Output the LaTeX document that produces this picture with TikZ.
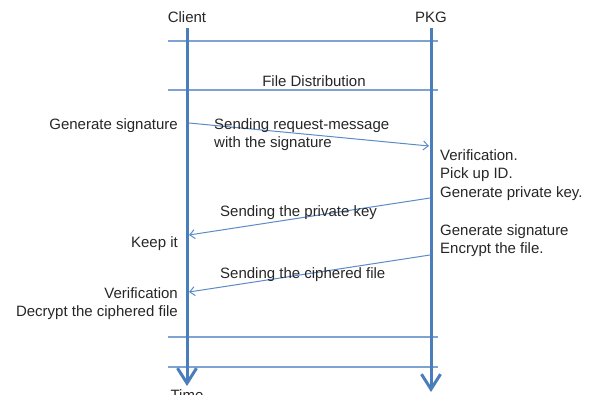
\documentclass[tikz,border=0pt]{standalone}
\usepackage{fontspec}
\setmainfont{Liberation Sans}
\usetikzlibrary{arrows.meta}
\definecolor{lifeblue}{HTML}{4A7EBB}
\definecolor{rowblue}{HTML}{7EA3D3}
\definecolor{msgblue}{HTML}{5B8BC8}
\definecolor{txt}{HTML}{262626}
\tikzset{
  x=1pt, y=-1pt,
  every node/.style={inner sep=0pt, text=txt, font=\fontsize{15}{18.5}\selectfont},
  lifeline/.style={draw=lifeblue, line width=3pt,
    -{Straight Barb[length=15pt,width=19pt,line width=3pt]}},
  rowline/.style={draw=rowblue, line width=1.6pt},
  msg/.style={draw=msgblue, line width=1pt,
    -{Straight Barb[length=5pt,width=9pt,line width=1pt]}},
  lefttxt/.style={anchor=base east, align=right},
  righttxt/.style={anchor=base west, align=left},
}
\begin{document}
\begin{tikzpicture}
\useasboundingbox (0,0) rectangle (592,394);
\clip (0,0) rectangle (592,394);

% party headers
\node[anchor=base] (client) at (187,22) {Client};
\node[anchor=base] (pkg) at (431,22) {PKG};

% lifeline ends
\coordinate (ctop) at (187,28);
\coordinate (cend) at (187,386);
\coordinate (ptop) at (431,28);
\coordinate (pend) at (431,392);

% phase separators
\coordinate (r1a) at (168,41);  \coordinate (r1b) at (438,41);
\coordinate (r2a) at (168,90);  \coordinate (r2b) at (438,90);
\coordinate (r3a) at (168,337); \coordinate (r3b) at (438,337);
\coordinate (r4a) at (168,367); \coordinate (r4b) at (438,367);
\draw[rowline] (r1a) -- (r1b);
\draw[rowline] (r2a) -- (r2b);
\draw[rowline] (r3a) -- (r3b);
\draw[rowline] (r4a) -- (r4b);

\draw[lifeline] (ctop) -- (cend);
\draw[lifeline] (ptop) -- (pend);

\node[anchor=base] (phase) at (314,86) {File Distribution};
\node[anchor=base] (time) at (187,400) {Time};

% message end points on the lifelines
\coordinate (m1s) at (189,123);
\coordinate (m1e) at (429,146);
\coordinate (m2s) at (430,198);
\coordinate (m2e) at (189,235);
\coordinate (m3s) at (430,255);
\coordinate (m3e) at (189,292);

\draw[msg] (m1s) -- (m1e);
\draw[msg] (m2s) -- (m2e);
\draw[msg] (m3s) -- (m3e);

% message labels (base anchor sits on the last line)
\node[righttxt] (l1) at (214,147.5) {Sending request-message\\with the signature};
\node[righttxt] (l2) at (220,216) {Sending the private key};
\node[righttxt] (l3) at (220,278) {Sending the ciphered file};

% client actions
\node[lefttxt] (a1) at (178,129) {Generate signature};
\node[lefttxt] (a2) at (178,247) {Keep it};
\node[lefttxt] (a3) at (178,316.5) {Verification\\Decrypt the ciphered file};

% PKG actions
\node[righttxt] (b1) at (440,197) {Verification.\\Pick up ID.\\Generate private key.};
\node[righttxt] (b2) at (440,253.5) {Generate signature\\Encrypt the file.};
\end{tikzpicture}
\end{document}
